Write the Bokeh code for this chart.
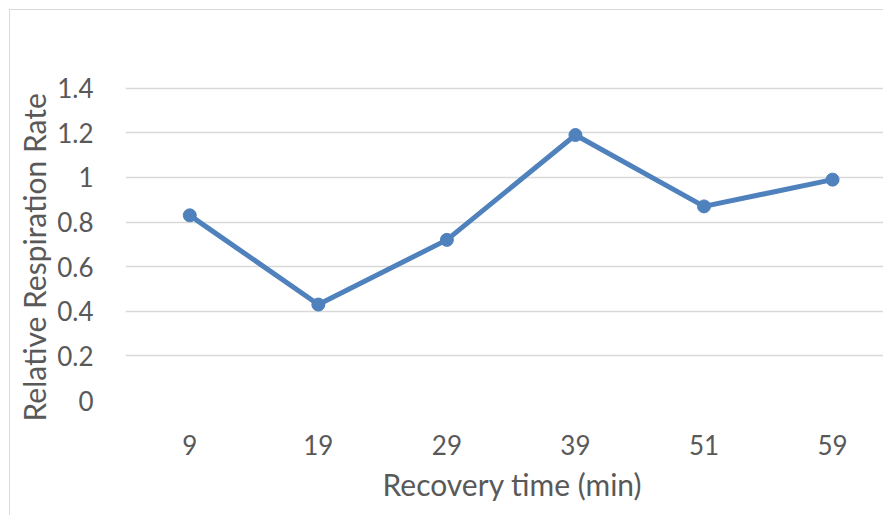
from bokeh.plotting import figure
from bokeh.models import Range1d, FixedTicker, Title, ColumnDataSource
from bokeh.embed import file_html
from bokeh.resources import INLINE

# ---- data ----
categories = ["9", "19", "29", "39", "51", "59"]
respiration = [0.83, 0.43, 0.72, 1.19, 0.87, 0.99]
y_ticks = [0, 0.2, 0.4, 0.6, 0.8, 1.0, 1.2, 1.4]
y_tick_labels = ["0", "0.2", "0.4", "0.6", "0.8", "1", "1.2", "1.4"]
x_title = "Recovery time (min)"
y_title = "Relative Respiration Rate"

FONT = "Lato"
TXT = "#595959"
GRID = "#d9d9d9"
LINE = "#4f81bd"

xs = list(range(len(categories)))
src = ColumnDataSource(dict(x=xs, y=respiration, cat=categories))

p = figure(width=874, height=506, output_backend="svg", toolbar_location=None,
           x_range=Range1d(-0.5, 5.404), y_range=Range1d(0, 1.524),
           min_border_left=115, min_border_right=0, min_border_top=50,
           min_border_bottom=116)
p.styles = {"margin-left": "9px", "margin-top": "9px",
            "border-left": "1px solid #d9d9d9", "border-top": "1px solid #d9d9d9"}

p.background_fill_color = "white"
p.border_fill_color = "white"
p.outline_line_color = None

p.xaxis.ticker = FixedTicker(ticks=xs)
p.xaxis.major_label_overrides = {i: c for i, c in zip(xs, categories)}
p.yaxis.ticker = FixedTicker(ticks=y_ticks)
p.yaxis.major_label_overrides = {t: l for t, l in zip(y_ticks, y_tick_labels)}

for ax in (p.xaxis[0], p.yaxis[0]):
    ax.axis_line_color = None
    ax.major_tick_line_color = None
    ax.minor_tick_line_color = None
    ax.major_label_text_font = FONT
    ax.major_label_text_font_size = "26px"
    ax.major_label_text_color = TXT
p.yaxis.major_label_standoff = 26
p.xaxis.major_label_standoff = 28

p.xgrid.grid_line_color = None
p.ygrid.grid_line_color = GRID
p.ygrid.grid_line_width = 1.3

p.line("x", "y", source=src, line_color=LINE, line_width=5)
p.scatter("x", "y", source=src, size=13, fill_color=LINE, line_color=LINE)

xt = Title(text=x_title, align="left", offset=257, text_font=FONT,
           text_font_size="30px", text_color=TXT, text_font_style="normal", standoff=12)
p.add_layout(xt, "below")
yt = Title(text=y_title, align="left", offset=-21, text_font=FONT,
           text_font_size="30px", text_color=TXT, text_font_style="normal", standoff=5)
p.add_layout(yt, "left")

open("out.html", "w").write(file_html(p, INLINE))
